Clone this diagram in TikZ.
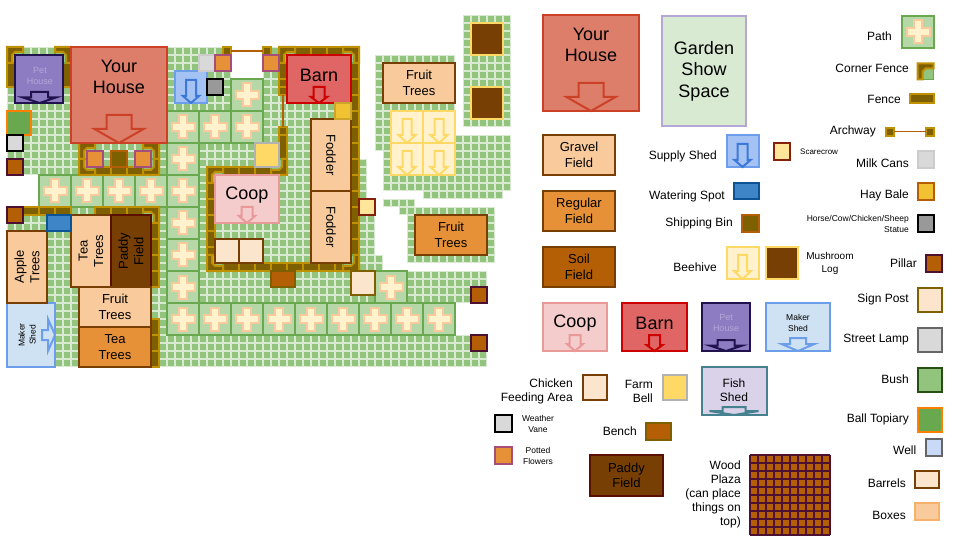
\documentclass[tikz,border=0pt]{standalone}
\usepackage{fontspec}
\setmainfont{Liberation Sans}
\usepackage{xcolor}
\usepackage{tikz}
\usetikzlibrary{
    positioning,
    calc
}
\definecolor{grassLight}{RGB}{217, 234, 211}
\definecolor{grassDark}{RGB}{147, 196, 125}
\definecolor{pathFill}{RGB}{182, 215, 168}
\definecolor{pathEdge}{RGB}{106, 168, 79}
\definecolor{crossFill}{RGB}{255, 242, 204}
\definecolor{crossEdge}{RGB}{249, 203, 156}
\definecolor{fenceFill}{RGB}{127, 96, 0}
\definecolor{fenceEdge}{RGB}{191, 144, 0}
\definecolor{archBrown}{RGB}{180, 95, 6}
\definecolor{fieldEdge}{RGB}{120, 63, 4}
\definecolor{regularFill}{RGB}{230, 145, 56}
\definecolor{houseFill}{RGB}{221, 126, 107}
\definecolor{houseEdge}{RGB}{204, 65, 37}
\definecolor{barnFill}{RGB}{224, 102, 102}
\definecolor{barnEdge}{RGB}{204, 0, 0}
\definecolor{coopFill}{RGB}{244, 204, 204}
\definecolor{coopEdge}{RGB}{234, 153, 153}
\definecolor{petFill}{RGB}{142, 124, 195}
\definecolor{petEdge}{RGB}{32, 18, 77}
\definecolor{petText}{RGB}{180, 167, 214}
\definecolor{makerFill}{RGB}{207, 226, 243}
\definecolor{shedEdge}{RGB}{109, 158, 235}
\definecolor{supplyFill}{RGB}{164, 194, 244}
\definecolor{supplyArrow}{RGB}{60, 120, 216}
\definecolor{hiveEdge}{RGB}{255, 217, 102}
\definecolor{signFill}{RGB}{252, 229, 205}
\definecolor{plumEdge}{RGB}{76, 17, 48}
\definecolor{flowerEdge}{RGB}{166, 77, 121}
\definecolor{fishFill}{RGB}{217, 210, 233}
\definecolor{fishEdge}{RGB}{69, 129, 142}
\definecolor{gardenEdge}{RGB}{180, 167, 214}
\definecolor{waterFill}{RGB}{61, 133, 198}
\definecolor{waterEdge}{RGB}{11, 83, 148}
\definecolor{scareFill}{RGB}{255, 229, 153}
\definecolor{scareEdge}{RGB}{133, 32, 12}
\definecolor{hayFill}{RGB}{241, 194, 50}
\definecolor{paleGrey}{RGB}{217, 217, 217}
\definecolor{paddyEdge}{RGB}{91, 15, 0}
\definecolor{bushEdge}{RGB}{39, 78, 19}
\definecolor{wellFill}{RGB}{201, 218, 248}
\definecolor{boxEdge}{RGB}{246, 178, 107}

\tikzset{
    spot/.style={draw, line width=2pt, inner sep=0pt, outer sep=0pt, align=center},
    gravelLot/.style={spot, fill=crossEdge, draw=fieldEdge},
    regularLot/.style={spot, fill=regularFill, draw=fieldEdge},
    soilLot/.style={spot, fill=archBrown, draw=fieldEdge},
    paddyLot/.style={spot, fill=fieldEdge, draw=paddyEdge},
    houseLot/.style={spot, fill=houseFill, draw=houseEdge},
    barnLot/.style={spot, fill=barnFill, draw=barnEdge},
    coopLot/.style={spot, fill=coopFill, draw=coopEdge},
    petLot/.style={spot, fill=petFill, draw=petEdge},
    makerLot/.style={spot, fill=makerFill, draw=shedEdge},
    supplyLot/.style={spot, fill=supplyFill, draw=shedEdge},
    hiveLot/.style={spot, fill=crossFill, draw=hiveEdge},
    logLot/.style={spot, fill=fieldEdge, draw=hiveEdge},
    feedLot/.style={spot, fill=signFill, draw=fieldEdge},
    bellLot/.style={spot, fill=hiveEdge, draw=black!30},
    benchLot/.style={spot, fill=archBrown, draw=fenceFill},
    signLot/.style={spot, fill=signFill, draw=fenceFill},
    pillarLot/.style={spot, fill=archBrown, draw=plumEdge},
    flowerLot/.style={spot, fill=regularFill, draw=flowerEdge},
    vaneLot/.style={spot, fill=paleGrey, draw=black},
    statueLot/.style={spot, fill=black!40, draw=black},
    milkLot/.style={spot, fill=paleGrey, draw=black!20},
    waterLot/.style={spot, fill=waterFill, draw=waterEdge},
    binLot/.style={spot, fill=fenceFill, draw=archBrown},
    scareLot/.style={spot, fill=scareFill, draw=scareEdge},
    hayLot/.style={spot, fill=hayFill, draw=archBrown},
    hayFarmLot/.style={spot, fill=hayFill, draw=hayFill!85!black},
    topiaryLot/.style={spot, fill=pathEdge, draw=orange},
    fishLot/.style={spot, fill=fishFill, draw=fishEdge},
    gardenLot/.style={spot, fill=grassLight, draw=gardenEdge},
    lampLot/.style={spot, fill=paleGrey, draw=black!60},
    bushLot/.style={spot, fill=grassDark, draw=bushEdge},
    wellLot/.style={spot, fill=wellFill, draw=black!60},
    boxLot/.style={spot, fill=crossEdge, draw=boxEdge},
    fenceBar/.style={draw=fenceEdge, fill=fenceFill, line width=2pt},
    archPost/.style={fenceBar, minimum size=8pt, inner sep=0pt, outer sep=0pt},
    archLine/.style={draw=archBrown, line width=1.5pt},
    bigText/.style={font=\fontsize{18}{21.5}\selectfont, inner sep=0pt, align=center},
    midText/.style={font=\fontsize{13}{15.5}\selectfont, inner sep=0pt, align=center},
    refText/.style={font=\fontsize{12}{14}\selectfont, inner sep=0pt, align=right, anchor=east},
    tinyText/.style={font=\fontsize{8.5}{11}\selectfont, inner sep=0pt, align=center}
}

% lot: name, style, x, y, width, height, text
\newcommand{\lot}[7]{\node[#2, anchor=north west, minimum width=#5pt, minimum height=#6pt] (#1) at (#3,#4) {#7};}
% grass: x, y, cells across, cells down
\newcommand{\grass}[4]{%
    \fill[grassLight] (#1,#2) rectangle ++(8*#3,8*#4);
    \pgfmathtruncatemacro{\lastx}{#3-1}
    \pgfmathtruncatemacro{\lasty}{#4-1}
    \foreach \i in {0,...,\lastx} \foreach \j in {0,...,\lasty}
        \fill[grassDark] (#1+8*\i+0.8,#2+8*\j+0.8) rectangle ++(6.4,6.4);
}
\newcommand{\pathtile}[2]{%
    \draw[draw=pathEdge, fill=pathFill, line width=2pt] (#1,#2) rectangle ++(32,32);
    \draw[draw=crossEdge, fill=crossFill, line width=2pt, shift={(#1+16,#2+16)}]
        (-4,-11.5) -- (4,-11.5) -- (4,-4) -- (11.5,-4) -- (11.5,4) -- (4,4)
        -- (4,11.5) -- (-4,11.5) -- (-4,4) -- (-11.5,4) -- (-11.5,-4) -- (-4,-4) -- cycle;
}
\newcommand{\hfence}[3]{\foreach \k in {1,...,#3} \draw[fenceBar] (#1+16*\k-16,#2) rectangle ++(16,8);}
\newcommand{\vfence}[3]{\foreach \k in {1,...,#3} \draw[fenceBar] (#1,#2+16*\k-16) rectangle ++(8,16);}
% corner piece: x, y, turn
\newcommand{\corner}[3]{%
    \begin{scope}[shift={(#1+8,#2+8)}, rotate=#3]
        \draw[draw=pathEdge, fill=grassDark, line width=1.5pt] (-8,-8) rectangle (8,8);
        \draw[fenceBar] (-8,-8) -- (8,-8) -- (8,-3) -- (0,-3) -- (-3,0) -- (-3,8) -- (-8,8) -- cycle;
    \end{scope}
}
% block arrow: colour, centre, top, half shaft, half head, neck, tip
\newcommand{\blockarrow}[7]{%
    \draw[draw=#1, line width=2pt] (#2-#4,#3) -- (#2+#4,#3) -- (#2+#4,#6) -- (#2+#5,#6)
        -- (#2,#7) -- (#2-#5,#6) -- (#2-#4,#6) -- cycle;
}

\begin{document}
\begin{tikzpicture}[x=1pt, y=-1pt]
    \useasboundingbox (0,0) rectangle (956,540);
    \fill[white] (0,0) rectangle (956,540);

    % farm ground
    \grass{7}{47}{28}{4}
    \grass{263}{47}{12}{4}
    \grass{7}{79}{44}{10}
    \grass{7}{159}{45}{2}
    \grass{39}{175}{41}{3}
    \grass{39}{199}{42}{1}
    \grass{7}{207}{46}{6}
    \grass{7}{255}{47}{2}
    \grass{7}{271}{60}{4}
    \grass{7}{303}{56}{4}
    \grass{7}{335}{60}{4}
    % outer ground
    \grass{463}{15}{6}{14}
    \grass{375}{55}{10}{10}
    \grass{375}{135}{17}{2}
    \grass{383}{151}{16}{5}
    \grass{423}{191}{10}{1}
    \grass{383}{199}{4}{1}
    \grass{399}{207}{12}{1}
    \grass{407}{215}{11}{6}

    % paths
    \foreach \tx/\ty in {231/79, 167/111, 199/111, 231/111, 167/143, 39/175, 71/175, 103/175, 135/175, 167/175,
        167/207, 167/239, 167/271, 375/271, 167/303, 199/303, 231/303, 263/303, 295/303, 327/303, 359/303, 391/303, 423/303} {
        \pathtile{\tx}{\ty}
    }

    % fences
    \draw[fenceBar] (7,63) rectangle (15,87);
    \draw[fenceBar] (63,63) rectangle (71,87);
    \corner{7}{47}{0}
    \corner{55}{47}{-90}
    \hfence{95}{167}{3}
    \corner{79}{143}{0}
    \corner{143}{143}{-90}
    \corner{79}{159}{90}
    \corner{143}{159}{180}
    \hfence{23}{207}{3}
    \hfence{95}{207}{3}
    \corner{143}{207}{-90}
    \vfence{151}{223}{4}
    \vfence{151}{319}{3}
    \vfence{279}{63}{2}
    \hfence{295}{47}{3}
    \vfence{351}{63}{12}
    \corner{279}{47}{0}
    \corner{343}{47}{-90}
    \draw[fenceBar] (279,135) rectangle (287,159);
    \hfence{223}{167}{3}
    \vfence{207}{183}{5}
    \hfence{223}{263}{8}
    \corner{207}{167}{0}
    \corner{271}{159}{180}
    \corner{207}{255}{90}
    \corner{343}{255}{180}

    % archways
    \node[archPost] (archTopLeft) at (227,51) {};
    \node[archPost] (archTopRight) at (267,51) {};
    \draw[archLine] (archTopLeft) -- (archTopRight);
    \node[archPost] (archSideTop) at (283,91) {};
    \node[archPost] (archSideBottom) at (283,131) {};
    \draw[archLine] (archSideTop) -- (archSideBottom);

    % farm buildings
    \lot{petHouse}{petLot}{15}{55}{48}{48}{}
    \node[tinyText, petText, font=\fontsize{9}{11}\selectfont] (petHouseText) at (40,76) {Pet\\House};
    \blockarrow{petEdge}{39.5}{92}{8.5}{16.5}{97.5}{103}
    \lot{yourHouse}{houseLot}{71}{47}{96}{96}{}
    \node[bigText] (yourHouseText) at (119,77) {Your\\House};
    \blockarrow{houseEdge}{119}{115}{12.5}{24.5}{129}{143}
    \lot{supplyShed}{supplyLot}{175}{71}{32}{32}{}
    \blockarrow{supplyArrow}{191}{80}{5}{8}{96}{103}
    \lot{barn}{barnLot}{287}{55}{64}{48}{}
    \node[bigText] (barnText) at (319,75) {Barn};
    \blockarrow{barnEdge}{319}{87}{5.5}{8}{97}{103}
    \lot{coop}{coopLot}{215}{175}{64}{48}{}
    \node[bigText] (coopText) at (247,195) {Coop};
    \blockarrow{coopEdge}{247}{207}{5.5}{8}{216}{223}
    \lot{makerShed}{makerLot}{7}{303}{48}{64}{}
    \node[tinyText, rotate=90] (makerShedText) at (27,335) {Maker\\Shed};
    \draw[draw=shedEdge, line width=2pt] (42,330) -- (48,330) -- (48,319) -- (55,335)
        -- (48,351) -- (48,340) -- (42,340) -- cycle;

    % farm fields
    \lot{appleTrees}{gravelLot}{7}{231}{40}{72}{}
    \node[midText, rotate=90] (appleTreesText) at (27,267) {Apple\\Trees};
    \lot{teaTreesUp}{gravelLot}{71}{215}{40}{72}{}
    \node[midText, rotate=90] (teaTreesUpText) at (91,251) {Tea\\Trees};
    \lot{paddyUp}{paddyLot}{111}{215}{40}{72}{}
    \node[midText, rotate=90] (paddyUpText) at (131,251) {Paddy\\Field};
    \lot{fruitLow}{gravelLot}{79}{287}{72}{40}{}
    \node[midText] (fruitLowText) at (fruitLow) {Fruit\\Trees};
    \lot{teaLow}{regularLot}{79}{327}{72}{40}{}
    \node[midText] (teaLowText) at (teaLow) {Tea\\Trees};
    \lot{fodderTop}{gravelLot}{311}{119}{40}{72}{}
    \node[midText, rotate=-90] (fodderTopText) at (fodderTop) {Fodder};
    \lot{fodderBottom}{gravelLot}{311}{191}{40}{72}{}
    \node[midText, rotate=-90] (fodderBottomText) at (fodderBottom) {Fodder};
    \lot{fruitNorth}{gravelLot}{383}{63}{72}{40}{}
    \node[midText] (fruitNorthText) at (fruitNorth) {Fruit\\Trees};
    \lot{fruitEast}{regularLot}{415}{215}{72}{40}{}
    \node[midText] (fruitEastText) at (fruitEast) {Fruit\\Trees};

    % beehives and logs
    \foreach \hx/\hy/\hname in {391/111/a, 423/111/b, 391/143/c, 423/143/d} {
        \lot{hive\hname}{hiveLot}{\hx}{\hy}{32}{32}{}
        \blockarrow{hiveEdge}{\hx+16}{\hy+8}{4.5}{8.5}{\hy+24}{\hy+32}
    }
    \lot{logNorth}{logLot}{471}{23}{32}{32}{}
    \lot{logSouth}{logLot}{471}{87}{32}{32}{}

    % small farm things
    \lot{topiaryFarm}{topiaryLot}{7}{111}{24}{24}{}
    \lot{vaneFarm}{vaneLot}{7}{135}{16}{16}{}
    \lot{pillarFarmA}{pillarLot}{7}{159}{16}{16}{}
    \lot{pillarFarmB}{pillarLot}{7}{207}{16}{16}{}
    \lot{pillarFarmC}{pillarLot}{471}{287}{16}{16}{}
    \lot{pillarFarmD}{pillarLot}{471}{335}{16}{16}{}
    \lot{flowerFarmA}{flowerLot}{87}{151}{16}{16}{}
    \lot{binFarm}{binLot}{111}{151}{16}{16}{}
    \lot{flowerFarmB}{flowerLot}{135}{151}{16}{16}{}
    \lot{waterFarm}{waterLot}{47}{215}{24}{16}{}
    \lot{milkFarm}{milkLot}{199}{55}{16}{16}{}
    \lot{flowerFarmC}{flowerLot}{215}{55}{16}{16}{}
    \lot{flowerFarmD}{flowerLot}{263}{55}{16}{16}{}
    \lot{statueFarm}{statueLot}{207}{79}{16}{16}{}
    \lot{bellFarm}{bellLot}{255}{143}{24}{24}{}
    \lot{hayFarm}{hayFarmLot}{335}{103}{16}{16}{}
    \lot{feedFarmA}{feedLot}{215}{239}{24}{24}{}
    \lot{feedFarmB}{feedLot}{239}{239}{24}{24}{}
    \lot{benchFarm}{benchLot}{271}{271}{24}{16}{}
    \lot{signFarm}{signLot}{351}{271}{24}{24}{}
    \lot{scareFarm}{scareLot}{359}{199}{16}{16}{}

    % legend, large lots
    \lot{refHouse}{houseLot}{543}{15}{96}{96}{}
    \node[bigText] (refHouseText) at (591,45) {Your\\House};
    \blockarrow{houseEdge}{591}{83}{12.5}{24.5}{97}{111}
    \lot{refGarden}{gardenLot}{662}{16}{84}{110}{}
    \node[bigText] (refGardenText) at (refGarden) {Garden\\Show\\Space};
    \lot{refGravel}{gravelLot}{543}{135}{72}{40}{}
    \node[midText] (refGravelText) at (refGravel) {Gravel\\Field};
    \lot{refRegular}{regularLot}{543}{191}{72}{40}{}
    \node[midText] (refRegularText) at (refRegular) {Regular\\Field};
    \lot{refSoil}{soilLot}{543}{247}{72}{40}{}
    \node[midText] (refSoilText) at (refSoil) {Soil\\Field};
    \lot{refCoop}{coopLot}{543}{303}{64}{48}{}
    \node[bigText] (refCoopText) at (575,323) {Coop};
    \blockarrow{coopEdge}{575}{335}{5.5}{8}{344}{351}
    \lot{refBarn}{barnLot}{622}{303}{65}{48}{}
    \node[bigText] (refBarnText) at (654.5,323) {Barn};
    \blockarrow{barnEdge}{654.5}{335}{5.5}{8}{345}{351}
    \lot{refPet}{petLot}{702}{303}{48}{48}{}
    \node[tinyText, petText, font=\fontsize{9}{11}\selectfont] (refPetText) at (726,323) {Pet\\House};
    \blockarrow{petEdge}{726}{340}{8.5}{16.5}{345.5}{351}
    \lot{refMaker}{makerLot}{766}{303}{64}{48}{}
    \node[tinyText] (refMakerText) at (798,323) {Maker\\Shed};
    \blockarrow{shedEdge}{798}{338}{8}{16.5}{344}{351}
    \lot{refFish}{fishLot}{702}{367}{65}{48}{}
    \node[midText, font=\fontsize{12}{14}\selectfont] (refFishText) at (734,390) {Fish\\Shed};
    \blockarrow{fishEdge}{734}{407}{11.5}{24.5}{411}{415}
    \lot{refPaddy}{paddyLot}{590}{455}{73}{41}{}
    \node[midText] (refPaddyText) at (refPaddy) {Paddy\\Field};

    % legend, middle column
    \lot{refSupply}{supplyLot}{726.5}{135}{32}{32}{}
    \blockarrow{supplyArrow}{742.5}{144}{5}{8}{160}{167}
    \node[refText] (refSupplyText) at (717,156) {Supply Shed};
    \lot{refScare}{scareLot}{773.5}{143.5}{16.5}{16.5}{}
    \node[tinyText, anchor=west, font=\fontsize{8}{10}\selectfont] (refScareText) at (800,152) {Scarecrow};
    \lot{refWater}{waterLot}{734}{183.5}{25}{16}{}
    \node[refText] (refWaterText) at (725,196) {Watering Spot};
    \lot{refBin}{binLot}{742}{215}{17}{17}{}
    \node[refText] (refBinText) at (733,223.5) {Shipping Bin};
    \lot{refHive}{hiveLot}{726.5}{247}{32}{32}{}
    \blockarrow{hiveEdge}{742.5}{255}{4.5}{8.5}{271}{279}
    \node[refText] (refHiveText) at (717,267) {Beehive};
    \lot{refLog}{logLot}{766}{247}{32}{32}{}
    \node[midText, font=\fontsize{10}{13}\selectfont] (refLogText) at (830,263.5) {Mushroom\\Log};
    \lot{refFeed}{feedLot}{582.5}{375}{24.5}{25}{}
    \node[refText] (refFeedText) at (573,391) {Chicken\\Feeding Area};
    \lot{refBell}{bellLot}{662.5}{375}{24.5}{25}{}
    \node[refText] (refBellText) at (653,391) {Farm\\Bell};
    \lot{refBench}{benchLot}{646}{422.5}{25}{17}{}
    \node[refText] (refBenchText) at (637,431) {Bench};
    \lot{refVane}{vaneLot}{494.5}{415}{17}{17}{}
    \node[tinyText] (refVaneText) at (538,423.5) {Weather\\Vane};
    \lot{refFlower}{flowerLot}{494.5}{447}{17}{17}{}
    \node[tinyText] (refFlowerText) at (538,455.5) {Potted\\Flowers};

    % wood plaza
    \node[refText] (refPlazaText) at (741,494.5) {Wood\\Plaza\\(can place\\things on\\top)};
    \fill[archBrown] (750,455) rectangle (830,535);
    \foreach \i in {0,...,10} {
        \draw[plumEdge, line width=2pt] (750+8*\i,455) -- (750+8*\i,535);
        \draw[plumEdge, line width=2pt] (750,455+8*\i) -- (830,455+8*\i);
    }

    % legend, right column
    \pathtile{902}{16}
    \node[refText] (refPathText) at (892,36) {Path};
    \corner{917.5}{63.5}{0}
    \node[refText] (refCornerText) at (909,68) {Corner Fence};
    \draw[fenceBar] (909.5,94.5) rectangle (934,103);
    \node[refText] (refFenceText) at (901,99.5) {Fence};
    \node[archPost] (refArchLeft) at (889.5,131.7) {};
    \node[archPost] (refArchRight) at (929.5,131.7) {};
    \draw[archLine] (refArchLeft) -- (refArchRight);
    \node[refText] (refArchText) at (876,131.5) {Archway};
    \lot{refMilk}{milkLot}{917.5}{151.5}{16.5}{16.5}{}
    \node[refText] (refMilkText) at (909,163) {Milk Cans};
    \lot{refHay}{hayLot}{917.5}{183.5}{16.5}{16.5}{}
    \node[refText] (refHayText) at (909,195) {Hay Bale};
    \lot{refStatue}{statueLot}{917.5}{215.5}{16.5}{16.5}{}
    \node[refText, font=\fontsize{8.5}{11}\selectfont] (refStatueText) at (909,223.5) {Horse/Cow/Chicken/Sheep\\Statue};
    \lot{refPillar}{pillarLot}{925.5}{255.5}{16.5}{16.5}{}
    \node[refText] (refPillarText) at (917,263.5) {Pillar};
    \lot{refSign}{signLot}{917.5}{287.5}{24.5}{24.5}{}
    \node[refText] (refSignText) at (909,299.5) {Sign Post};
    \lot{refLamp}{lampLot}{917.5}{327.5}{24.5}{24.5}{}
    \node[refText] (refLampText) at (909,339.5) {Street Lamp};
    \lot{refBush}{bushLot}{917.5}{367.5}{24.5}{24.5}{}
    \node[refText] (refBushText) at (909,379.5) {Bush};
    \lot{refTopiary}{topiaryLot}{917.5}{407.5}{24.5}{24.5}{}
    \node[refText] (refTopiaryText) at (909,419.5) {Ball Topiary};
    \lot{refWell}{wellLot}{925.5}{439}{16.5}{16.5}{}
    \node[refText] (refWellText) at (916.5,450.5) {Well};
    \lot{refBarrel}{feedLot}{914.5}{471}{24.5}{16.5}{}
    \node[refText] (refBarrelText) at (906,483) {Barrels};
    \lot{refBoxes}{boxLot}{914.5}{503}{24.5}{16.5}{}
    \node[refText] (refBoxesText) at (906,515) {Boxes};
\end{tikzpicture}
\end{document}
